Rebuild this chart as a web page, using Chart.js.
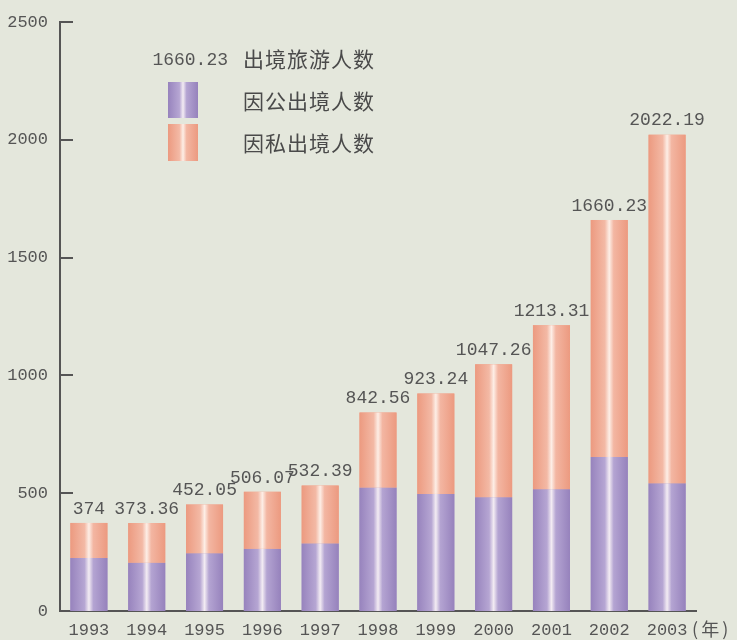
<!DOCTYPE html>
<html>
<head>
<meta charset="utf-8">
<script src="https://cdn.jsdelivr.net/npm/chart.js@4.4.0/dist/chart.umd.min.js"></script>
<style>
  html, body { margin: 0; padding: 0; background: #e4e7dc; }
  canvas { display: block; }
</style>
</head>
<body>
<canvas id="myChart" width="737" height="640"></canvas>
<script>
// data (万人次)
var years = ["1993", "1994", "1995", "1996", "1997", "1998", "1999", "2000", "2001", "2002", "2003"];
var totals = [374, 373.36, 452.05, 506.07, 532.39, 842.56, 923.24, 1047.26, 1213.31, 1660.23, 2022.19];
var gongValues = [225, 205, 245, 264, 287, 524, 497, 483, 517, 654, 542];
var siValues = [149, 168.36, 207.05, 242.07, 245.39, 318.56, 426.24, 564.26, 696.31, 1006.23, 1480.19];
var totalName = "出境旅游人数";
var seriesNames = ["因公出境人数", "因私出境人数"];
var yTicks = [0, 500, 1000, 1500, 2000, 2500];
var yearUnit = "(年)";

var BG = "#e4e7dc";
var TEXT = "#555555";
var NUM_FONT = "'Liberation Mono', 'DejaVu Sans Mono', monospace";
var CJK_FONT = "'Noto Sans CJK SC', sans-serif";

var baseColors = ["#a18dc4", "#f0a289"];
var shades = [
  ["#9783bd", "#b6a6d3", "#f3ecf3", "#b4a4d2", "#9682bc"],
  ["#ec9a80", "#f3b9a5", "#fdeee6", "#f3b6a2", "#ec9a80"]
];

function barGradient(ctx, x0, x1, d) {
  var g = ctx.createLinearGradient(x0, 0, x1, 0);
  var s = shades[d];
  g.addColorStop(0, s[0]);
  g.addColorStop(0.38, s[1]);
  g.addColorStop(0.5, s[2]);
  g.addColorStop(0.62, s[3]);
  g.addColorStop(1, s[4]);
  return g;
}

var decor = {
  id: "decor",
  beforeDraw: function (chart) {
    var ctx = chart.ctx;
    ctx.save();
    ctx.fillStyle = BG;
    ctx.fillRect(0, 0, chart.width, chart.height);
    ctx.restore();
  },
  afterDatasetsDraw: function (chart) {
    var ctx = chart.ctx;
    ctx.save();
    // shiny bars
    for (var d = 0; d < 2; d++) {
      chart.getDatasetMeta(d).data.forEach(function (bar) {
        var p = bar.getProps(["x", "y", "base", "width"], true);
        var x0 = p.x - p.width / 2;
        ctx.fillStyle = barGradient(ctx, x0, x0 + p.width, d);
        ctx.fillRect(x0, Math.min(p.y, p.base), p.width, Math.abs(p.base - p.y));
      });
    }
    // totals above the bars
    ctx.fillStyle = TEXT;
    ctx.font = "18px " + NUM_FONT;
    ctx.textAlign = "center";
    ctx.textBaseline = "bottom";
    var top = chart.getDatasetMeta(1).data;
    top.forEach(function (bar, i) {
      ctx.fillText(String(totals[i]), bar.x, bar.y - 5);
    });
    // y tick marks pointing inwards
    var ys = chart.scales.y;
    var left = chart.chartArea.left;
    ctx.strokeStyle = TEXT;
    ctx.lineWidth = 2;
    yTicks.forEach(function (v) {
      if (v === 0) return;
      var py = Math.round(ys.getPixelForValue(v));
      ctx.beginPath();
      ctx.moveTo(left, py);
      ctx.lineTo(left + 13, py);
      ctx.stroke();
    });
    // unit after the last year
    var xs = chart.scales.x;
    var lastX = xs.getPixelForValue(years.length - 1);
    ctx.font = "18px " + CJK_FONT;
    ctx.textAlign = "left";
    ctx.textBaseline = "middle";
    ctx.letterSpacing = "3px";
    ctx.fillText(yearUnit, lastX + 25, 629);
    ctx.letterSpacing = "0px";
    // legend
    ctx.textAlign = "right";
    ctx.font = "18px " + NUM_FONT;
    ctx.fillText(String(totals[9]), 228, 60);
    ctx.textAlign = "left";
    ctx.font = "21px " + CJK_FONT;
    ctx.letterSpacing = "1px";
    ctx.fillStyle = "#4a4a4a";
    ctx.fillText(totalName, 243, 59);
    ctx.fillText(seriesNames[0], 243, 101);
    ctx.fillText(seriesNames[1], 243, 143);
    ctx.letterSpacing = "0px";
    ctx.fillStyle = barGradient(ctx, 168, 198, 0);
    ctx.fillRect(168, 82, 30, 36);
    ctx.fillStyle = barGradient(ctx, 168, 198, 1);
    ctx.fillRect(168, 124, 30, 37);
    ctx.restore();
  }
};

new Chart("myChart", {
  type: "bar",
  data: {
    labels: years,
    datasets: [
      { label: seriesNames[0], data: gongValues, backgroundColor: baseColors[0], barPercentage: 0.64, categoryPercentage: 1 },
      { label: seriesNames[1], data: siValues, backgroundColor: baseColors[1], barPercentage: 0.64, categoryPercentage: 1 }
    ]
  },
  options: {
    responsive: false,
    animation: false,
    layout: { padding: { top: 17, right: 41, left: 0, bottom: 0 } },
    plugins: {
      legend: { display: false },
      tooltip: { enabled: false }
    },
    scales: {
      x: {
        stacked: true,
        grid: { display: false, drawTicks: false },
        border: { display: true, color: TEXT, width: 2 },
        ticks: { color: TEXT, font: { family: NUM_FONT, size: 17 }, padding: 9, maxRotation: 0 },
        afterFit: function (s) { s.height = 29; }
      },
      y: {
        stacked: true,
        min: 0,
        max: 2500,
        grid: { display: false, drawTicks: false },
        border: { display: true, color: TEXT, width: 2 },
        ticks: {
          stepSize: 500, color: TEXT, font: { family: NUM_FONT, size: 17 }, padding: 12,
          callback: function (v) { return String(v); }
        },
        afterFit: function (s) { s.width = 60; }
      }
    }
  },
  plugins: [decor]
});
</script>
</body>
</html>
